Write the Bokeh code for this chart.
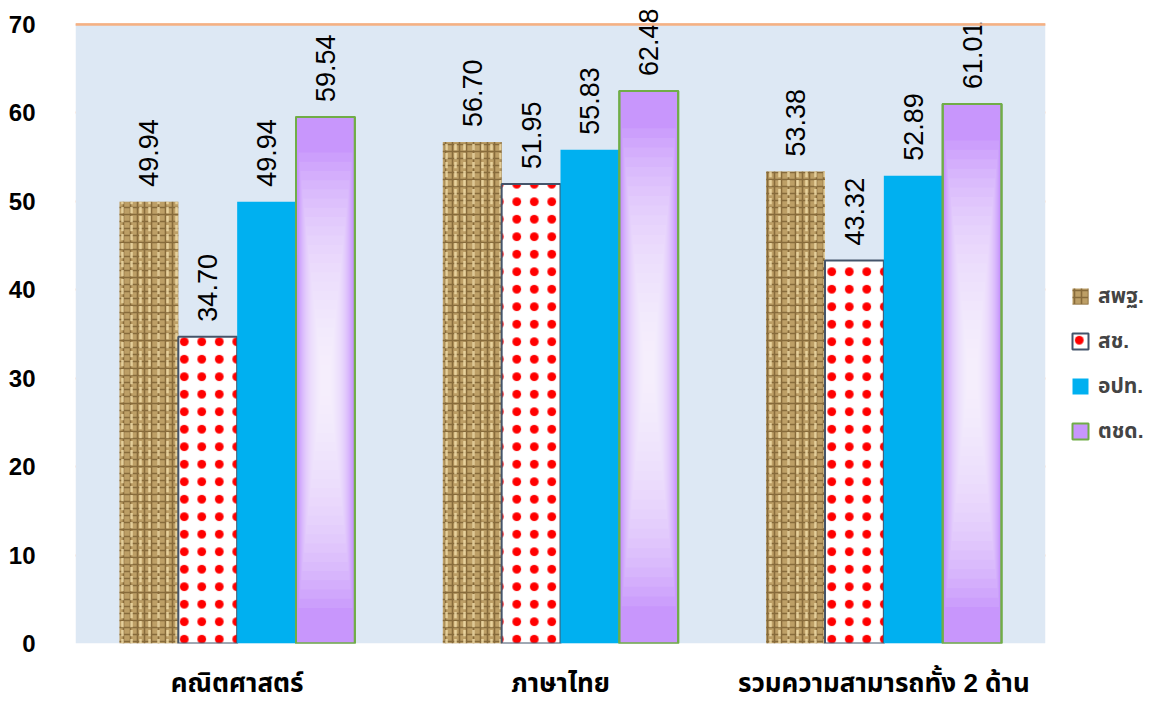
import math
from bokeh.plotting import figure
from bokeh.models import (Legend, LegendItem, FixedTicker, ColumnDataSource, LabelSet,
                          BoxAnnotation, Span)
from bokeh.core.properties import value
from bokeh.embed import file_html
from bokeh.resources import INLINE

categories = ["คณิตศาสตร์", "ภาษาไทย", "รวมความสามารถทั้ง 2 ด้าน"]
series_names = ["สพฐ.", "สช.", "อปท.", "ตชด."]
v_obec = [49.94, 56.70, 53.38]
v_opec = [34.70, 51.95, 43.32]
v_lao = [49.94, 55.83, 52.89]
v_bpp = [59.54, 62.48, 61.01]
y_ticks = [0, 10, 20, 30, 40, 50, 60, 70]

FONT = "Liberation Sans, Noto Sans Thai, Noto Sans, Tahoma, sans-serif"
W = 0.182
centers = [i + 0.5 for i in range(len(categories))]
offsets = [-1.5 * W, -0.5 * W, 0.5 * W, 1.5 * W]
all_vals = [v_obec, v_opec, v_lao, v_bpp]

p = figure(width=1158, height=693, frame_width=970, frame_height=643,
           x_range=(0, 3), y_range=(0, 72.71),
           output_backend="svg", toolbar_location=None,
           min_border_left=75, min_border_top=0, min_border_bottom=50, min_border_right=113)
p.background_fill_color = "white"
p.border_fill_color = "white"
p.outline_line_color = None
p.add_layout(BoxAnnotation(bottom=0, top=70, fill_color="#dde8f4", fill_alpha=1, line_color=None, level="underlay"))

# axes
p.yaxis.ticker = FixedTicker(ticks=y_ticks)
p.xaxis.ticker = FixedTicker(ticks=centers)
p.xaxis.major_label_overrides = {c: lab for c, lab in zip(centers, categories)}
for ax in (p.xaxis[0], p.yaxis[0]):
    ax.axis_line_color = None
    ax.major_tick_line_color = None
    ax.minor_tick_line_color = None
    ax.major_label_text_font = FONT
    ax.major_label_text_font_style = "bold"
    ax.major_label_text_color = "black"
p.yaxis.major_label_text_font_size = "24px"
p.xaxis.major_label_text_font_size = "26px"
p.yaxis.major_label_standoff = 34
p.xaxis.major_label_standoff = 18
p.xgrid.grid_line_color = None
p.ygrid.ticker = FixedTicker(ticks=y_ticks)
p.ygrid.grid_line_color = "#f4b183"
p.ygrid.grid_line_width = 2
p.ygrid.level = "image"
p.add_layout(Span(location=y_ticks[-1], dimension="width", line_color="#f4b183", line_width=2.5, level="overlay"))

def xs(k):
    return [c + offsets[k] for c in centers]

# สพฐ. - burlap texture
src0 = ColumnDataSource(dict(x=xs(0), top=v_obec))
r0 = p.vbar(x="x", top="top", width=W, source=src0, fill_color="#bd9f66", line_color=None,
            hatch_pattern="cross", hatch_color="#76592c", hatch_scale=7, hatch_weight=1.6, hatch_alpha=0.75)
p.vbar(x="x", top="top", width=W, source=src0, fill_alpha=0, line_color=None,
       hatch_pattern="vertical_dash", hatch_color="#f3dfaa", hatch_scale=9, hatch_weight=2.5, hatch_alpha=0.8)

# สช. - red diamonds on white
src1 = ColumnDataSource(dict(x=xs(1), top=v_opec))
r1 = p.vbar(x="x", top="top", width=W, source=src1, fill_color="white", line_color="#44546a", line_width=2,
            hatch_pattern="dot", hatch_color="#ff0000", hatch_scale=17.5, hatch_weight=17)

# อปท. - solid blue
src2 = ColumnDataSource(dict(x=xs(2), top=v_lao))
r2 = p.vbar(x="x", top="top", width=W, source=src2, fill_color="#00b0f0", line_color=None)

# ตชด. - purple with light centre
src3 = ColumnDataSource(dict(x=xs(3), top=v_bpp))
r3 = p.vbar(x="x", top="top", width=W, source=src3, fill_color="#c896fc", line_color="#70ad47", line_width=2)
N = 24
for k in range(1, N + 1):
    f = k / N
    p.vbar(x=xs(3), bottom=[v * (0.05 + 0.42 * f) for v in v_bpp],
           top=[v * (0.95 - 0.42 * f) for v in v_bpp],
           width=W * (0.95 - 0.78 * f), fill_color="white", fill_alpha=0.085, line_color=None)
p.vbar(x="x", top="top", width=W, source=src3, fill_alpha=0, line_color="#70ad47", line_width=2)

# value labels
for k in range(4):
    s = ColumnDataSource(dict(x=xs(k), y=all_vals[k], t=[f"{v:.2f}" for v in all_vals[k]]))
    p.add_layout(LabelSet(x="x", y="y", text="t", source=s, angle=math.pi / 2,
                          text_align="left", text_baseline="middle", y_offset=15,
                          text_font=value(FONT), text_font_size="27px", text_color="black"))

legend = Legend(items=[LegendItem(label=series_names[i], renderers=[r]) for i, r in enumerate([r0, r1, r2, r3])],
                location=(25, 195), orientation="vertical", margin=0,
                glyph_width=20, glyph_height=20, label_height=34, spacing=11, padding=0,
                label_standoff=8, border_line_color=None, background_fill_alpha=0,
                label_text_font=FONT, label_text_font_style="bold", label_text_font_size="21px")
p.add_layout(legend, "right")

open("out.html", "w").write(file_html(p, INLINE))
